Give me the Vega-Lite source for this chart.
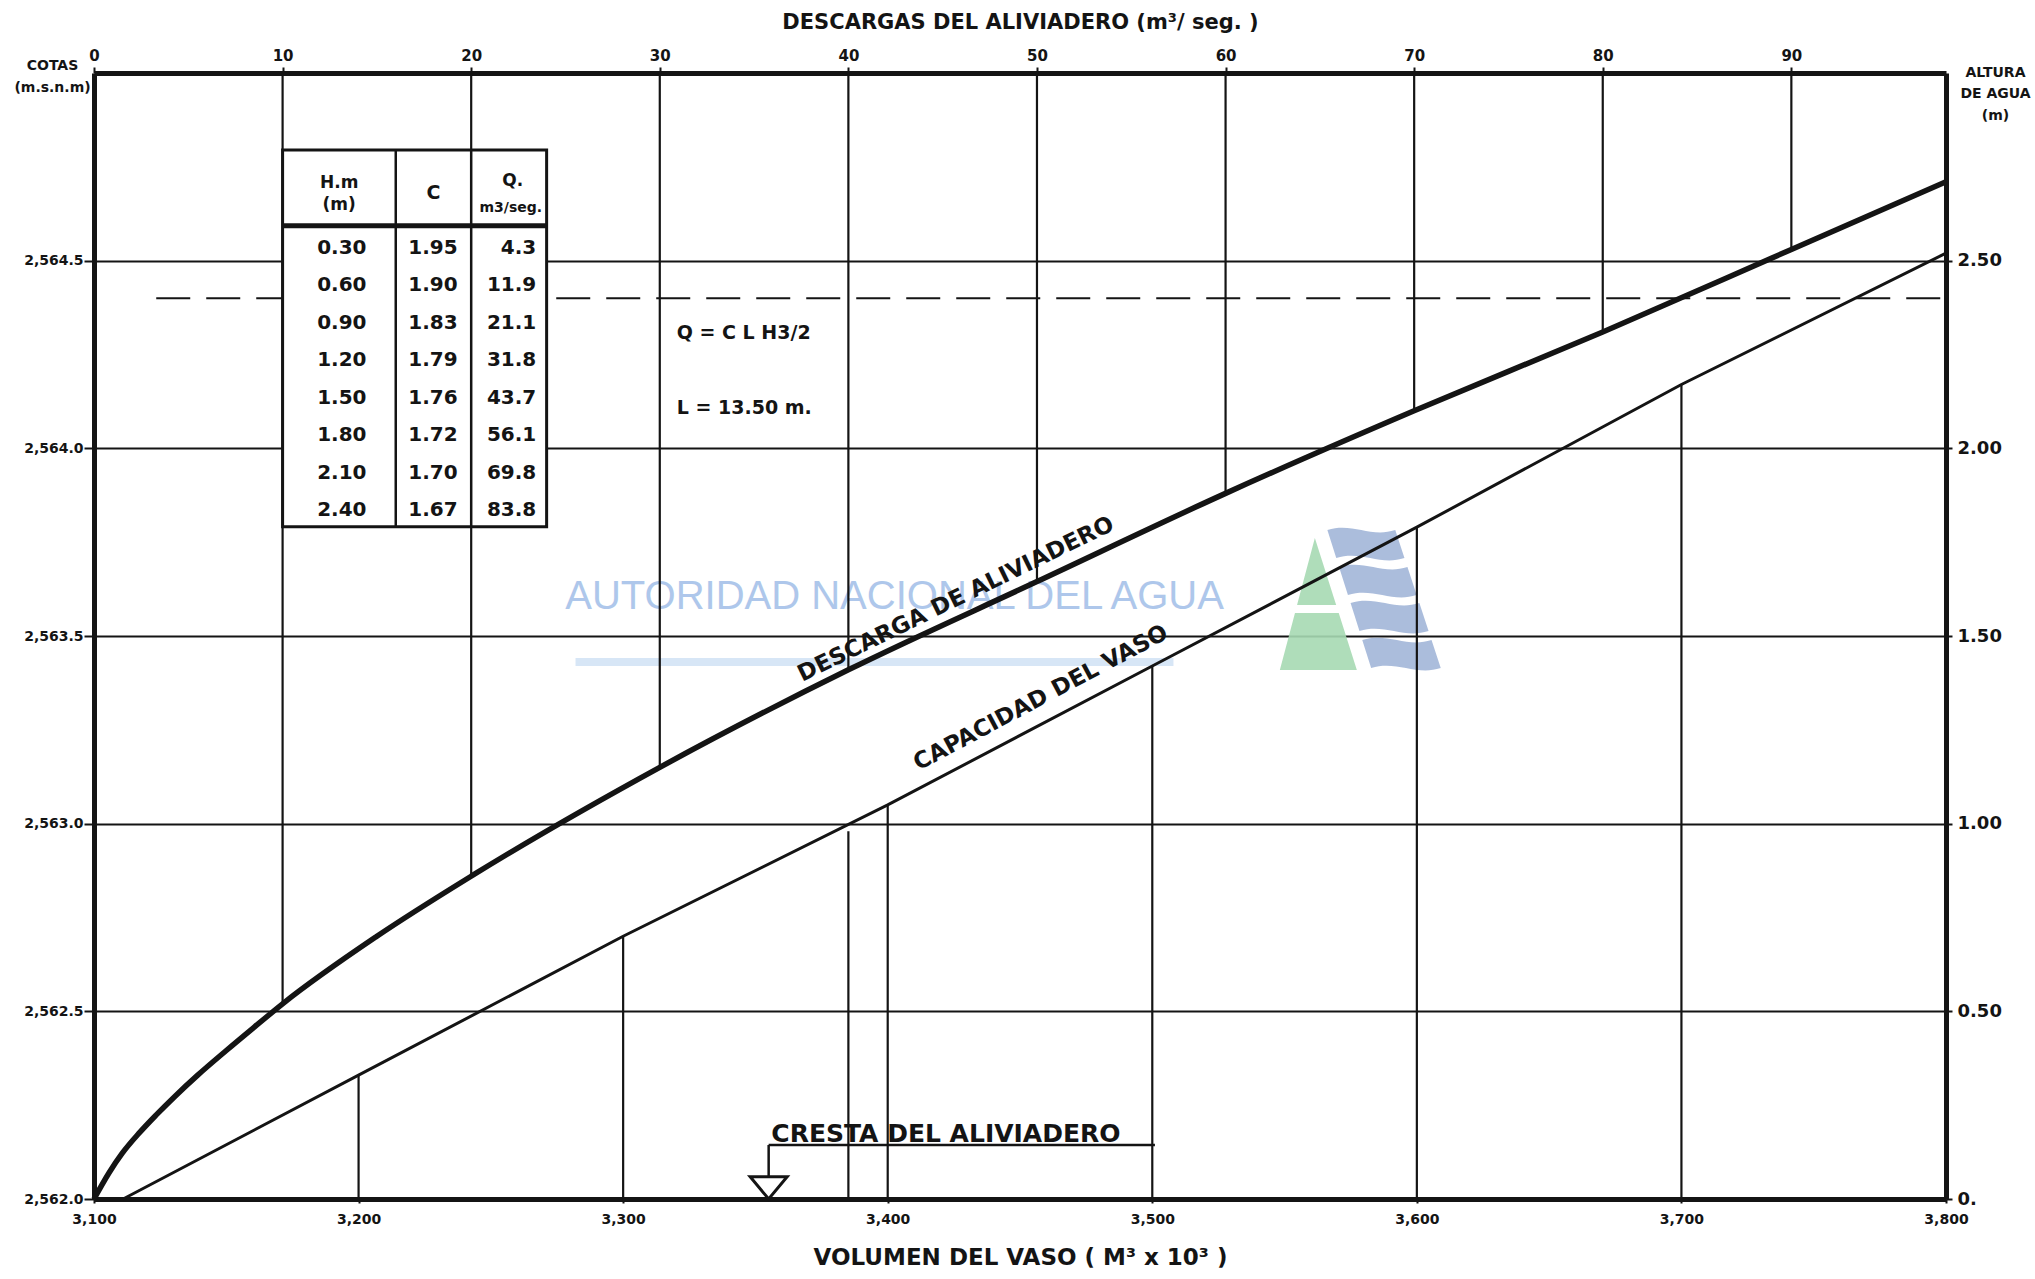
{
  "$schema": "https://vega.github.io/schema/vega-lite/v6.json",
  "width": 1852,
  "height": 1126,
  "autosize": {"type": "none"},
  "padding": {"left": 94, "top": 73, "right": 89, "bottom": 80},
  "background": "white",
  "config": {
    "view": {"stroke": null},
    "font": "DejaVu Sans",
    "axis": {
      "labelFont": "DejaVu Sans", "titleFont": "DejaVu Sans",
      "labelFontWeight": "bold", "titleFontWeight": "bold",
      "labelColor": "#141414", "titleColor": "#141414",
      "domainColor": "#141414", "tickColor": "#141414",
      "labelFlush": false, "labelOverlap": false, "grid": false,
      "domainWidth": 5, "tickWidth": 2
    }
  },
  "datasets": {
    "capacidad": [
      {"volumen": 3111, "cota": 2562.0},
      {"volumen": 3200, "cota": 2562.33},
      {"volumen": 3300, "cota": 2562.70},
      {"volumen": 3400, "cota": 2563.05},
      {"volumen": 3500, "cota": 2563.42},
      {"volumen": 3600, "cota": 2563.79},
      {"volumen": 3700, "cota": 2564.17},
      {"volumen": 3800, "cota": 2564.52}
    ],
    "descarga": [
      {"descarga": 0, "altura": 0},
      {"descarga": 0.8, "altura": 0.07},
      {"descarga": 1.5, "altura": 0.122},
      {"descarga": 2.4, "altura": 0.176},
      {"descarga": 3.3, "altura": 0.224},
      {"descarga": 4.3, "altura": 0.274},
      {"descarga": 5.5, "altura": 0.33},
      {"descarga": 7, "altura": 0.395},
      {"descarga": 8.5, "altura": 0.458},
      {"descarga": 10, "altura": 0.52},
      {"descarga": 15, "altura": 0.70},
      {"descarga": 20, "altura": 0.86},
      {"descarga": 30, "altura": 1.15},
      {"descarga": 40, "altura": 1.41},
      {"descarga": 50, "altura": 1.645},
      {"descarga": 60, "altura": 1.88},
      {"descarga": 70, "altura": 2.10},
      {"descarga": 80, "altura": 2.31},
      {"descarga": 90, "altura": 2.53},
      {"descarga": 98.2, "altura": 2.71}
    ],
    "tabla": [
      {"fila": 1, "h": "0.30", "c": "1.95", "q": "4.3"},
      {"fila": 2, "h": "0.60", "c": "1.90", "q": "11.9"},
      {"fila": 3, "h": "0.90", "c": "1.83", "q": "21.1"},
      {"fila": 4, "h": "1.20", "c": "1.79", "q": "31.8"},
      {"fila": 5, "h": "1.50", "c": "1.76", "q": "43.7"},
      {"fila": 6, "h": "1.80", "c": "1.72", "q": "56.1"},
      {"fila": 7, "h": "2.10", "c": "1.70", "q": "69.8"},
      {"fila": 8, "h": "2.40", "c": "1.67", "q": "83.8"}
    ]
  },
  "resolve": {"scale": {"x": "independent", "y": "independent"}},
  "layer": [
    {
      "layer": [
        {
          "data": {"values": [{}]},
          "mark": {"type": "rule", "color": "#d3e3f5", "strokeWidth": 8, "opacity": 0.9},
          "encoding": {
            "x": {"datum": 3282, "type": "quantitative"},
            "x2": {"datum": 3508},
            "y": {"datum": 2563.431, "type": "quantitative"}
          }
        },
        {
          "data": {"values": [{}]},
          "mark": {"type": "text", "text": "AUTORIDAD NACIONAL DEL AGUA", "font": "Liberation Sans", "fontSize": 40, "color": "#a6c2e9", "opacity": 0.9, "align": "center", "baseline": "middle"},
          "encoding": {
            "x": {"datum": 3402.6, "type": "quantitative"},
            "y": {"datum": 2563.604, "type": "quantitative"}
          }
        },
        {
          "data": {"values": [{}]},
          "mark": {"type": "point", "filled": true, "size": 25600, "color": "#a6d9b3", "opacity": 0.9, "strokeWidth": 0,
            "shape": "M-0.5375,-0.825L-0.271,0.0125L-0.76,0.0125Z M-0.786,0.1125L-0.239,0.1125L-0.0125,0.825L-0.975,0.825Z"},
          "encoding": {
            "x": {"datum": 3577.7, "type": "quantitative"},
            "y": {"datum": 2563.585, "type": "quantitative"}
          }
        },
        {
          "data": {"values": [{}]},
          "mark": {"type": "point", "filled": true, "size": 25600, "color": "#a2b6d8", "opacity": 0.9, "strokeWidth": 0,
            "shape": "M-0.381,-0.925C-0.069,-1.025 0.155,-0.825 0.4675,-0.925L0.5825,-0.575C0.27,-0.475 0.0425,-0.675 -0.27,-0.575Z M-0.235,-0.4625C0.0775,-0.5625 0.3075,-0.3625 0.62,-0.4625L0.735,-0.1125C0.4225,-0.0125 0.189,-0.2125 -0.124,-0.1125Z M-0.091,-0.0125C0.221,-0.1125 0.456,0.0875 0.769,-0.0125L0.884,0.3375C0.571,0.4375 0.3325,0.2375 0.02,0.3375Z M0.055,0.45C0.3675,0.35 0.609,0.55 0.921,0.45L1.036,0.8C0.724,0.9 0.479,0.7 0.166,0.8Z"},
          "encoding": {
            "x": {"datum": 3577.7, "type": "quantitative"},
            "y": {"datum": 2563.585, "type": "quantitative"}
          }
        },
        {
          "data": {"name": "capacidad"},
          "transform": [{"filter": "datum.volumen % 100 == 0 && datum.volumen > 3100 && datum.volumen < 3800"}],
          "mark": {"type": "rule", "color": "#141414", "strokeWidth": 2.2},
          "encoding": {
            "x": {"field": "volumen", "type": "quantitative"},
            "y": {"field": "cota", "type": "quantitative"},
            "y2": {"datum": 2562}
          }
        },
        {
          "data": {"name": "capacidad"},
          "mark": {"type": "line", "color": "#141414", "strokeWidth": 3},
          "encoding": {
            "x": {
              "field": "volumen", "type": "quantitative",
              "scale": {"domain": [3100, 3800], "nice": false, "zero": false},
              "axis": {
                "orient": "bottom",
                "values": [3100, 3200, 3300, 3400, 3500, 3600, 3700, 3800],
                "format": ",d",
                "title": "VOLUMEN DEL VASO  ( M³ x 10³ )",
                "titleFontSize": 23, "titlePadding": 20,
                "labelFontSize": 14, "labelPadding": 9, "tickSize": 4
              }
            },
            "y": {
              "field": "cota", "type": "quantitative",
              "scale": {"domain": [2562, 2565], "nice": false, "zero": false},
              "axis": {
                "orient": "left",
                "values": [2562, 2562.5, 2563, 2563.5, 2564, 2564.5],
                "format": ",.1f",
                "labelFontSize": 14, "labelPadding": 1, "tickSize": 10,
                "grid": true, "gridColor": "#141414", "gridWidth": 2.2, "gridOpacity": 1,
                "title": ["COTAS", "(m.s.n.m)"],
                "titleAngle": 0, "titleAlign": "center", "titleBaseline": "middle",
                "titleX": -42, "titleY": -8, "titleFontSize": 14, "titleLineHeight": 22
              }
            }
          }
        },
        {
          "data": {"values": [{}]},
          "mark": {"type": "rule", "color": "#141414", "strokeWidth": 2.5},
          "encoding": {
            "x": {"datum": 3355, "type": "quantitative"},
            "x2": {"datum": 3501},
            "y": {"datum": 2562.144, "type": "quantitative"}
          }
        },
        {
          "data": {"values": [{}]},
          "mark": {"type": "rule", "color": "#141414", "strokeWidth": 2.5},
          "encoding": {
            "x": {"datum": 3355, "type": "quantitative"},
            "y": {"datum": 2562.144, "type": "quantitative"},
            "y2": {"datum": 2562.055}
          }
        },
        {
          "data": {"values": [{}]},
          "mark": {"type": "point", "filled": true, "fill": "white", "stroke": "#141414", "strokeWidth": 3, "opacity": 1, "size": 1369,
            "shape": "M-1,-0.6L1,-0.6L0,0.6Z"},
          "encoding": {
            "x": {"datum": 3355, "type": "quantitative"},
            "y": {"datum": 2562.0296, "type": "quantitative"}
          }
        },
        {
          "data": {"values": [{}]},
          "mark": {"type": "text", "text": "CRESTA DEL ALIVIADERO", "fontSize": 25, "fontWeight": "bold", "color": "#141414", "align": "left", "baseline": "alphabetic"},
          "encoding": {
            "x": {"datum": 3356, "type": "quantitative"},
            "y": {"datum": 2562.152, "type": "quantitative"}
          }
        }
      ]
    },
    {
      "layer": [
        {
          "data": {"name": "descarga"},
          "transform": [{"filter": "datum.descarga % 10 == 0 && datum.descarga > 0 && datum.descarga < 98"}],
          "mark": {"type": "rule", "color": "#141414", "strokeWidth": 2.2},
          "encoding": {
            "x": {"field": "descarga", "type": "quantitative"},
            "y": {"field": "altura", "type": "quantitative"},
            "y2": {"datum": 3}
          }
        },
        {
          "data": {"values": [{}]},
          "mark": {"type": "rule", "color": "#141414", "strokeWidth": 2.2},
          "encoding": {
            "x": {"datum": 40, "type": "quantitative"},
            "y": {"datum": 0, "type": "quantitative"},
            "y2": {"datum": 0.98}
          }
        },
        {
          "data": {"values": [{}]},
          "mark": {"type": "rule", "color": "#141414", "strokeWidth": 2, "strokeDash": [34, 16]},
          "encoding": {
            "x": {"datum": 3.3, "type": "quantitative"},
            "x2": {"datum": 98.2},
            "y": {"datum": 2.4, "type": "quantitative"}
          }
        },
        {
          "data": {"name": "descarga"},
          "mark": {"type": "line", "color": "#141414", "strokeWidth": 5.5, "interpolate": "monotone"},
          "encoding": {
            "x": {
              "field": "descarga", "type": "quantitative",
              "scale": {"domain": [0, 98.2], "nice": false, "zero": false},
              "axis": {
                "orient": "top",
                "values": [0, 10, 20, 30, 40, 50, 60, 70, 80, 90],
                "format": "d",
                "title": "DESCARGAS DEL ALIVIADERO  (m³/ seg. )",
                "titleFontSize": 21, "titlePadding": 16,
                "labelFontSize": 15, "labelPadding": 4, "tickSize": 6
              }
            },
            "y": {
              "field": "altura", "type": "quantitative",
              "scale": {"domain": [0, 3], "nice": false, "zero": false},
              "axis": {
                "orient": "right",
                "values": [0, 0.5, 1, 1.5, 2, 2.5],
                "labelExpr": "datum.value == 0 ? '0.' : format(datum.value, '.2f')",
                "labelFontSize": 18, "labelPadding": 5, "tickSize": 6,
                "title": ["ALTURA", "DE AGUA", "(m)"],
                "titleAngle": 0, "titleAlign": "center", "titleBaseline": "middle",
                "titleX": 49, "titleY": -1, "titleFontSize": 14, "titleLineHeight": 21.5
              }
            }
          }
        },
        {
          "data": {"values": [{}]},
          "mark": {"type": "rect", "fill": "white", "stroke": "#141414", "strokeWidth": 3},
          "encoding": {
            "x": {"datum": 10, "type": "quantitative"},
            "x2": {"datum": 24},
            "y": {"datum": 1.791, "type": "quantitative"},
            "y2": {"datum": 2.795}
          }
        },
        {
          "data": {"values": [{}]},
          "mark": {"type": "rule", "color": "#141414", "strokeWidth": 2.5},
          "encoding": {
            "x": {"datum": 16, "type": "quantitative"},
            "y": {"datum": 1.791, "type": "quantitative"},
            "y2": {"datum": 2.795}
          }
        },
        {
          "data": {"values": [{}]},
          "mark": {"type": "rule", "color": "#141414", "strokeWidth": 2.5},
          "encoding": {
            "x": {"datum": 20, "type": "quantitative"},
            "y": {"datum": 1.791, "type": "quantitative"},
            "y2": {"datum": 2.795}
          }
        },
        {
          "data": {"values": [{}]},
          "mark": {"type": "rule", "color": "#141414", "strokeWidth": 5},
          "encoding": {
            "x": {"datum": 10, "type": "quantitative"},
            "x2": {"datum": 24},
            "y": {"datum": 2.593, "type": "quantitative"}
          }
        },
        {
          "data": {"values": [{}]},
          "mark": {"type": "text", "text": ["H.m", "(m)"], "fontSize": 17, "fontWeight": "bold", "color": "#141414", "align": "center", "baseline": "middle", "lineHeight": 21.4},
          "encoding": {
            "x": {"datum": 13.0, "type": "quantitative"},
            "y": {"datum": 2.706, "type": "quantitative"}
          }
        },
        {
          "data": {"values": [{}]},
          "mark": {"type": "text", "text": "C", "fontSize": 19, "fontWeight": "bold", "color": "#141414", "align": "center", "baseline": "middle"},
          "encoding": {
            "x": {"datum": 18.0, "type": "quantitative"},
            "y": {"datum": 2.68, "type": "quantitative"}
          }
        },
        {
          "data": {"values": [{}]},
          "mark": {"type": "text", "text": "Q.", "fontSize": 17, "fontWeight": "bold", "color": "#141414", "align": "center", "baseline": "middle"},
          "encoding": {
            "x": {"datum": 22.2, "type": "quantitative"},
            "y": {"datum": 2.711, "type": "quantitative"}
          }
        },
        {
          "data": {"values": [{}]},
          "mark": {"type": "text", "text": "m3/seg.", "fontSize": 14, "fontWeight": "bold", "color": "#141414", "align": "center", "baseline": "middle"},
          "encoding": {
            "x": {"datum": 22.1, "type": "quantitative"},
            "y": {"datum": 2.640, "type": "quantitative"}
          }
        },
        {
          "data": {"values": [{}]},
          "mark": {"type": "text", "text": "Q = C L H3/2", "fontSize": 19, "fontWeight": "bold", "color": "#141414", "align": "left", "baseline": "middle"},
          "encoding": {
            "x": {"datum": 30.9, "type": "quantitative"},
            "y": {"datum": 2.307, "type": "quantitative"}
          }
        },
        {
          "data": {"values": [{}]},
          "mark": {"type": "text", "text": "L = 13.50 m.", "fontSize": 19, "fontWeight": "bold", "color": "#141414", "align": "left", "baseline": "middle"},
          "encoding": {
            "x": {"datum": 30.9, "type": "quantitative"},
            "y": {"datum": 2.108, "type": "quantitative"}
          }
        },
        {
          "data": {"values": [{}]},
          "mark": {"type": "text", "text": "DESCARGA DE ALIVIADERO", "fontSize": 23, "fontWeight": "bold", "color": "#141414", "align": "center", "baseline": "middle", "angle": -26},
          "encoding": {
            "x": {"datum": 45.7, "type": "quantitative"},
            "y": {"datum": 1.598, "type": "quantitative"}
          }
        },
        {
          "data": {"values": [{}]},
          "mark": {"type": "text", "text": "CAPACIDAD DEL VASO", "fontSize": 23, "fontWeight": "bold", "color": "#141414", "align": "center", "baseline": "middle", "angle": -28},
          "encoding": {
            "x": {"datum": 50.2, "type": "quantitative"},
            "y": {"datum": 1.335, "type": "quantitative"}
          }
        }
      ]
    },
    {
      "data": {"name": "tabla"},
      "encoding": {
        "x": {"datum": 13.14, "type": "quantitative", "scale": {"domain": [0, 98.2], "nice": false, "zero": false}, "axis": null},
        "y": {"field": "fila", "type": "quantitative", "scale": {"domain": [-3.65, 26.35], "reverse": true, "nice": false, "zero": false}, "axis": null}
      },
      "layer": [
        {
          "mark": {"type": "text", "fontSize": 20, "fontWeight": "bold", "color": "#141414", "align": "center", "baseline": "middle"},
          "encoding": {"text": {"field": "h"}}
        },
        {
          "mark": {"type": "text", "fontSize": 20, "fontWeight": "bold", "color": "#141414", "align": "center", "baseline": "middle"},
          "encoding": {"x": {"datum": 17.97, "type": "quantitative"}, "text": {"field": "c"}}
        },
        {
          "mark": {"type": "text", "fontSize": 20, "fontWeight": "bold", "color": "#141414", "align": "right", "baseline": "middle"},
          "encoding": {"x": {"datum": 23.45, "type": "quantitative"}, "text": {"field": "q"}}
        }
      ]
    }
  ]
}
